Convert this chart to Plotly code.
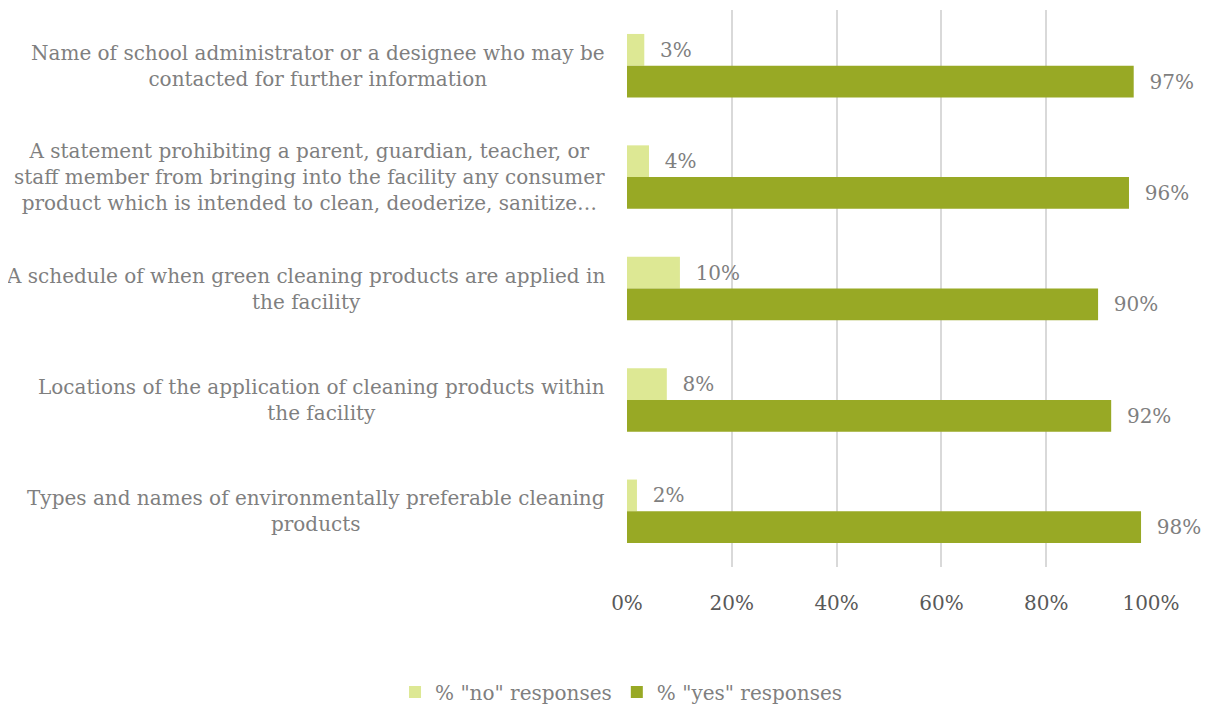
import plotly.graph_objects as go

categories = [
    "Name of school administrator or a designee who may be<br>contacted for further information",
    "A statement prohibiting a parent, guardian, teacher, or<br>staff member from bringing into the facility any consumer<br>product which is intended to clean, deoderize, sanitize…",
    "A schedule of when green cleaning products are applied in<br>the facility",
    "Locations of the application of cleaning products within<br>the facility",
    "Types and names of environmentally preferable cleaning<br>products",
]
no_values = [3.3, 4.2, 10.1, 7.6, 1.9]
yes_values = [96.7, 95.8, 89.9, 92.4, 98.1]
series_names = ['% "no" responses', '% "yes" responses']
tick_values = [0, 20, 40, 60, 80, 100]
tick_labels = ["0%", "20%", "40%", "60%", "80%", "100%"]

FONT = "DejaVu Serif"
GRAY = "#7f7f7f"
LIGHT = "#dde894"
DARK = "#98a925"

fig = go.Figure()
fig.add_trace(go.Bar(
    y=categories, x=no_values, orientation="h", name=series_names[0],
    marker=dict(color=LIGHT, line=dict(width=0)),
    texttemplate="\u00a0\u00a0%{x:.0f}%", textposition="outside",
    textfont=dict(family=FONT, size=20, color=GRAY), cliponaxis=False,
))
fig.add_trace(go.Bar(
    y=categories, x=yes_values, orientation="h", name=series_names[1],
    marker=dict(color=DARK, line=dict(width=0)),
    texttemplate="\u00a0\u00a0%{x:.0f}%", textposition="outside",
    textfont=dict(family=FONT, size=20, color=GRAY), cliponaxis=False,
))

for c in categories:
    fig.add_annotation(
        x=0, xref="paper", xshift=-20, y=c, yref="y", text=c,
        xanchor="right", yanchor="middle", align="center", showarrow=False,
        font=dict(family=FONT, size=20, color=GRAY),
    )

fig.update_layout(
    width=1203, height=697,
    paper_bgcolor="white", plot_bgcolor="white",
    margin=dict(l=619, r=60, t=2, b=138, autoexpand=False),
    barmode="group", bargap=0.43, bargroupgap=0,
    font=dict(family=FONT, size=20, color=GRAY),
    showlegend=True,
    legend=dict(orientation="h", x=0.51, xanchor="center", xref="container",
                y=-0.2244, yanchor="middle", yref="paper",
                font=dict(family=FONT, size=20, color=GRAY),
                traceorder="normal", itemwidth=30),
    xaxis=dict(range=[0, 100], tickvals=tick_values, ticktext=tick_labels,
               showgrid=True, gridcolor="#d9d9d9", gridwidth=2,
               zeroline=False, showline=False,
               ticks="", ticklabelstandoff=22,
               tickfont=dict(family=FONT, size=20, color="#595959")),
    yaxis=dict(autorange="reversed", showticklabels=False, showgrid=False,
               zeroline=False, showline=False, ticks=""),
)

fig.write_html("out.html")
